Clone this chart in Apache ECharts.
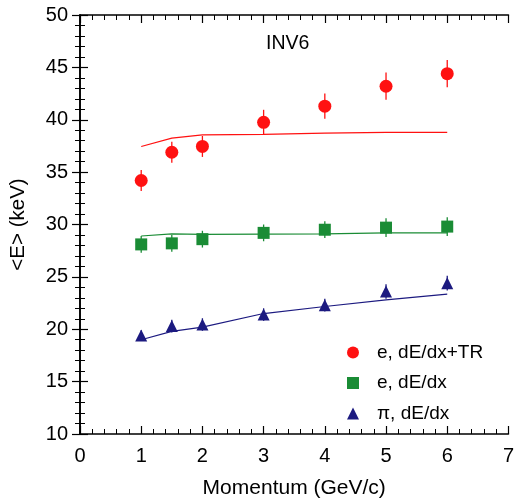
<!DOCTYPE html>
<html><head><meta charset="utf-8">
<script src="https://cdn.jsdelivr.net/npm/echarts@6/dist/echarts.min.js"></script>
<style>html,body{margin:0;padding:0;background:#fff}#c{width:517px;height:504px}</style>
</head><body><div id="c"></div>
<script>
const momentum = [1, 1.5, 2, 3, 4, 5, 6];
const eTR = [34.2, 36.9, 37.45, 39.75, 41.3, 43.2, 44.4];
const eTRErr = [1.0, 1.0, 1.0, 1.2, 1.2, 1.3, 1.3];
const eTRModel = [37.45, 38.25, 38.55, 38.6, 38.72, 38.8, 38.8];
const eDx = [28.1, 28.2, 28.6, 29.2, 29.5, 29.7, 29.8];
const eDxErr = [0.8, 0.8, 0.8, 0.8, 0.8, 0.9, 0.9];
const eDxModel = [28.9, 29.1, 29.05, 29.08, 29.1, 29.2, 29.2];
const piDx = [19.4, 20.3, 20.45, 21.4, 22.3, 23.6, 24.4];
const piDxErr = [0.5, 0.6, 0.6, 0.6, 0.6, 0.7, 0.7];
const piDxModel = [19.0, 19.8, 20.2, 21.5, 22.17, 22.8, 23.35];
const names = ['e, dE/dx+TR', 'e, dE/dx', 'π, dE/dx'];
const colors = ['#ff1111', '#1a8c35', '#1c1a80'];

const pts = a => momentum.map((x, i) => [x, a[i]]);
const errData = (v, e) => momentum.map((x, i) => [x, v[i] - e[i], v[i] + e[i]]);
function errSeries(v, e, col) {
  return {
    type: 'custom', xAxisIndex: 0, yAxisIndex: 0, z: 2,
    data: errData(v, e),
    renderItem: function (params, api) {
      const lo = api.coord([api.value(0), api.value(1)]);
      const hi = api.coord([api.value(0), api.value(2)]);
      return { type: 'line', shape: { x1: lo[0], y1: lo[1], x2: hi[0], y2: hi[1] },
        style: { stroke: col, lineWidth: 1.3 } };
    }
  };
}
const font = 'Liberation Sans, Arial, sans-serif';
const axisCommon = {
  axisLine: { lineStyle: { color: '#000', width: 1.6 } },
  axisTick: { inside: true, length: 8, lineStyle: { color: '#000', width: 1.2 } },
  minorTick: { show: true, splitNumber: 5, length: 5, lineStyle: { color: '#000', width: 1 } },
  splitLine: { show: false }
};
const chart = echarts.init(document.getElementById('c'));
chart.setOption({
  animation: false,
  backgroundColor: '#fff',
  grid: { left: 79, right: 4, top: 15, bottom: 65 },
  title: { text: 'INV6', left: 266, top: 34, padding: 0, textStyle: { fontFamily: font, fontSize: 19.5, fontWeight: 'normal', color: '#000' } },
  legend: {
    orient: 'vertical', left: 347, top: 343, padding: 0, itemGap: 11.5, itemWidth: 12, itemHeight: 12,
    data: [{ name: names[0], icon: 'circle' }, { name: names[1], icon: 'rect' }, { name: names[2], icon: 'triangle' }],
    textStyle: { fontFamily: font, fontSize: 19, lineHeight: 19, color: '#000', padding: [0, 0, 0, 13] }
  },
  xAxis: [
    Object.assign({ type: 'value', min: 0, max: 7, interval: 1, position: 'bottom',
      name: 'Momentum (GeV/c)', nameLocation: 'middle', nameGap: 44,
      nameTextStyle: { fontFamily: font, fontSize: 21, color: '#000' },
      axisLabel: { fontFamily: font, fontSize: 20, color: '#000', margin: 12 } }, axisCommon),
    Object.assign({ type: 'value', min: 0, max: 7, interval: 1, position: 'top', axisLabel: { show: false } }, axisCommon)
  ],
  yAxis: [
    Object.assign({ type: 'value', min: 10, max: 50, interval: 5, position: 'left',
      name: '<E> (keV)', nameLocation: 'middle', nameGap: 51, nameRotate: 90,
      nameTextStyle: { fontFamily: font, fontSize: 20.5, color: '#000' },
      axisLabel: { fontFamily: font, fontSize: 20, color: '#000', margin: 12 } }, axisCommon),
    Object.assign({ type: 'value', min: 10, max: 50, interval: 5, position: 'right', axisLabel: { show: false } }, axisCommon)
  ],
  series: [
    { type: 'line', data: pts(eTRModel), showSymbol: false, symbol: 'none', lineStyle: { color: colors[0], width: 1.2 }, z: 1, silent: true },
    { type: 'line', data: pts(eDxModel), showSymbol: false, symbol: 'none', lineStyle: { color: colors[1], width: 1.2 }, z: 1, silent: true },
    { type: 'line', data: pts(piDxModel), showSymbol: false, symbol: 'none', lineStyle: { color: colors[2], width: 1.2 }, z: 1, silent: true },
    errSeries(eTR, eTRErr, colors[0]),
    errSeries(eDx, eDxErr, colors[1]),
    errSeries(piDx, piDxErr, colors[2]),
    { name: names[0], type: 'scatter', symbol: 'circle', symbolSize: 13, data: pts(eTR), itemStyle: { color: colors[0], opacity: 1 }, z: 3 },
    { name: names[1], type: 'scatter', symbol: 'rect', symbolSize: 12, data: pts(eDx), itemStyle: { color: colors[1], opacity: 1 }, z: 3 },
    { name: names[2], type: 'scatter', symbol: 'triangle', symbolSize: 12, data: pts(piDx), itemStyle: { color: colors[2], opacity: 1 }, z: 3 }
  ]
});
</script></body></html>
